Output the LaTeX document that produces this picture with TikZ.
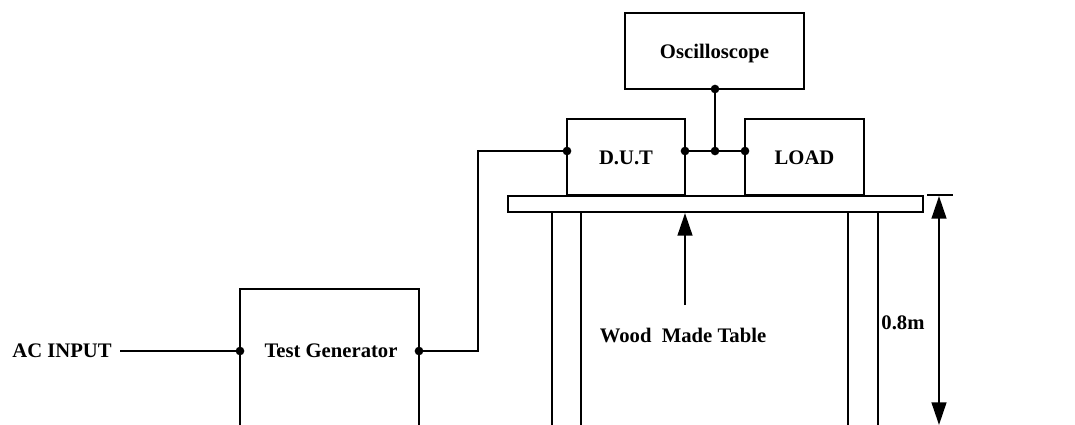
\documentclass[tikz,border=0pt]{standalone}
\usepackage{fontspec}
\setmainfont{Liberation Serif}
\usetikzlibrary{arrows.meta}
\tikzset{
  wire/.style={line width=1.8pt},
  jdot/.style={circle, fill, inner sep=0pt, outer sep=0pt, minimum size=6.5pt},
  unitbox/.style={draw, line width=1.8pt, inner sep=0pt, text height=11pt, text depth=0pt, font=\fontsize{15.5}{18}\selectfont\bfseries},
  lbl/.style={inner sep=0pt, font=\fontsize{15.5}{18}\selectfont\bfseries},
  bigtip/.style={-{Triangle[length=17pt,width=11pt]}}
}
\begin{document}
\begin{tikzpicture}[x=0.75pt,y=-0.75pt]
\useasboundingbox (0,0) rectangle (1075,425);
\node[unitbox, minimum width=134.25pt, minimum height=57pt] (osc) at (714.5,51){Oscilloscope};
\node[unitbox, minimum width=88.5pt, minimum height=57pt] (dut) at (626,157){D.U.T};
\node[unitbox, minimum width=89.25pt, minimum height=57pt] (load) at (804.5,157){LOAD};
\node[draw, line width=1.8pt, inner sep=0pt, minimum width=311.25pt, minimum height=12pt] (table) at (715.5,204){};
\node[lbl] (acin) at (62,351){AC INPUT};
\node[lbl] (tgen) at (331,351){Test Generator};
\node[lbl] (wood) at (683,335){Wood\ \ Made Table};
\node[lbl] (height) at (903,323){0.8m};
% junctions
\node[jdot] (jacin) at (240,351){};
\node[jdot] (jtgen) at (419,351){};
\node[jdot] (jdutl) at (567,151){};
\node[jdot] (jdutr) at (685,151){};
\node[jdot] (jmid) at (715,151){};
\node[jdot] (jload) at (745,151){};
\node[jdot] (josc) at (715,89){};
% free ends
\coordinate (acstart) at (120,351);
\coordinate (bend1) at (478,351);
\coordinate (bend2) at (478,151);
\coordinate (tgtl) at (240,289);
\coordinate (tgtr) at (419,289);
\coordinate (tgbl) at (240,425);
\coordinate (tgbr) at (419,425);
\coordinate (leg1t) at (552,212);
\coordinate (leg1b) at (552,425);
\coordinate (leg2t) at (581,212);
\coordinate (leg2b) at (581,425);
\coordinate (leg3t) at (848,212);
\coordinate (leg3b) at (848,425);
\coordinate (leg4t) at (878,212);
\coordinate (leg4b) at (878,425);
\coordinate (woodtail) at (685,305);
\coordinate (woodtip) at (685,213);
\coordinate (tickl) at (927,195);
\coordinate (tickr) at (953,195);
\coordinate (dimmid) at (939,300);
\coordinate (dimtop) at (939,196);
\coordinate (dimbot) at (939,425);
\draw[wire](tgbl) -- (tgtl) -- (tgtr) -- (tgbr);
\draw[wire](acstart) -- (jacin);
\draw[wire](jtgen) -- (bend1) -- (bend2) -- (jdutl);
\draw[wire](jdutr) -- (jload);
\draw[wire](josc) -- (jmid);
\draw[wire](leg1t) -- (leg1b);
\draw[wire](leg2t) -- (leg2b);
\draw[wire](leg3t) -- (leg3b);
\draw[wire](leg4t) -- (leg4b);
\draw[wire](tickl) -- (tickr);
\draw[wire, bigtip](woodtail) -- (woodtip);
\draw[wire, bigtip](dimmid) -- (dimtop);
\draw[wire, bigtip](dimmid) -- (dimbot);
\end{tikzpicture}
\end{document}
